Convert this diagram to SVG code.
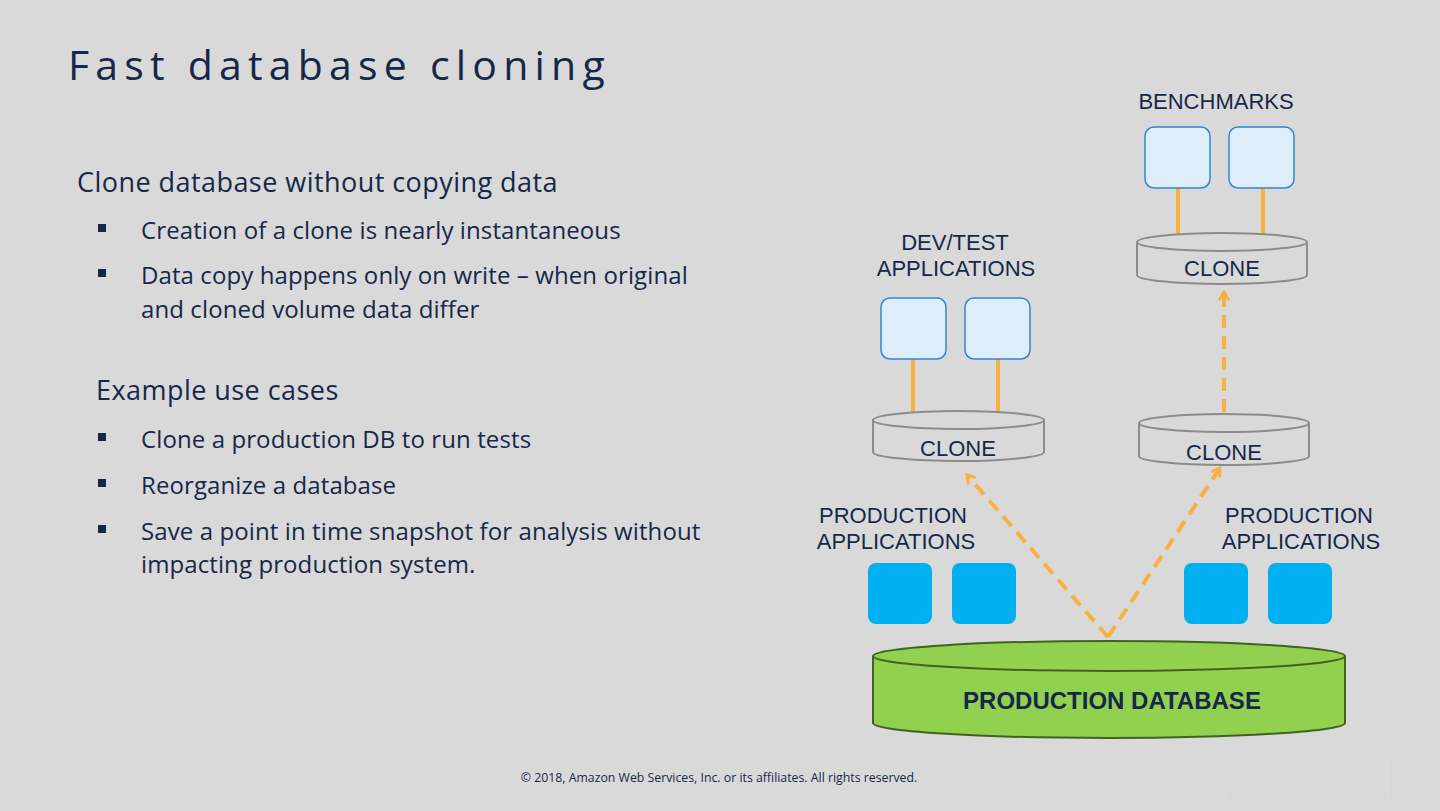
<svg xmlns="http://www.w3.org/2000/svg" width="1440" height="811" viewBox="0 0 1440 811">
<defs>
<style>
.t{font-family:"Open Sans",Lato,"Liberation Sans",sans-serif;fill:#16284a}
.h{font-size:27px;letter-spacing:0.45px}
.b{font-size:24px;letter-spacing:0.1px}
.lbl{font-family:"Liberation Sans",Arial,sans-serif;font-size:22px;fill:#16284a;text-anchor:middle}
.app{fill:#00b0f0}
.tapp{fill:#ddeefa;stroke:#2e86d6;stroke-width:1.5}
.clone{fill:#d9d9d9;stroke:#8c8c8c;stroke-width:2}
.link{stroke:#f8b03f;stroke-width:4;fill:none}
.dash{stroke:#f9b042;stroke-width:4;fill:none;stroke-dasharray:13 8}
.sq{fill:#16284a}
</style>
<marker id="chev" viewBox="0 0 12 12" refX="9" refY="6" markerWidth="12" markerHeight="12" markerUnits="userSpaceOnUse" orient="auto">
<path d="M1,1 L9,6 L1,11" fill="none" stroke="#f9b042" stroke-width="3"/>
</marker>
</defs>
<rect width="1440" height="811" fill="#d9d9d9"/>
<text class="t" x="68" y="80" font-size="41" letter-spacing="6.2">Fast database cloning</text>
<g id="bullets">
<text class="t h" x="77" y="192">Clone database without copying data</text>
<rect class="sq" x="98" y="224" width="8" height="8"/>
<text class="t b" x="141" y="239">Creation of a clone is nearly instantaneous</text>
<rect class="sq" x="98" y="269" width="8" height="8"/>
<text class="t b" x="141" y="284">Data copy happens only on write – when original</text>
<text class="t b" x="141" y="318">and cloned volume data differ</text>
<text class="t h" x="96" y="400">Example use cases</text>
<rect class="sq" x="98" y="433" width="8" height="8"/>
<text class="t b" x="141" y="448">Clone a production DB to run tests</text>
<rect class="sq" x="98" y="479" width="8" height="8"/>
<text class="t b" x="141" y="494">Reorganize a database</text>
<rect class="sq" x="98" y="525" width="8" height="8"/>
<text class="t b" x="141" y="540">Save a point in time snapshot for analysis without</text>
<text class="t b" x="141" y="573">impacting production system.</text>
</g>
<g id="connectors">
<line class="link" x1="913" y1="359" x2="913" y2="413"/>
<line class="link" x1="998" y1="359" x2="998" y2="413"/>
<line class="link" x1="1178" y1="188" x2="1178" y2="240"/>
<line class="link" x1="1263" y1="188" x2="1263" y2="240"/>
<path class="dash" d="M1108,637 L967,475" marker-end="url(#chev)"/>
<path class="dash" d="M1108,637 L1220,468" marker-end="url(#chev)"/>
<path class="dash" d="M1224,412 L1224,292" marker-end="url(#chev)"/>
</g>
<g id="prod-db">
<path d="M873,656 L873,723 A236,15 0 0 0 1345,723 L1345,656 A236,15 0 0 0 873,656 Z" fill="#92d050" stroke="#3f6420" stroke-width="2"/>
<path d="M873,656 A236,15 0 0 0 1345,656" fill="none" stroke="#3f6420" stroke-width="2"/>
<text x="1112" y="709" font-family="Liberation Sans,Arial,sans-serif" font-weight="bold" font-size="24" fill="#16284a" text-anchor="middle">PRODUCTION DATABASE</text>
</g>
<g id="prod-apps-left">
<rect class="app" x="868" y="563" width="64" height="61" rx="8"/>
<rect class="app" x="952" y="563" width="64" height="61" rx="8"/>
<text class="lbl" x="893" y="523">PRODUCTION</text>
<text class="lbl" x="896" y="549">APPLICATIONS</text>
</g>
<g id="prod-apps-right">
<rect class="app" x="1184" y="563" width="64" height="61" rx="8"/>
<rect class="app" x="1268" y="563" width="64" height="61" rx="8"/>
<text class="lbl" x="1299" y="523">PRODUCTION</text>
<text class="lbl" x="1301" y="549">APPLICATIONS</text>
</g>
<g id="clone-devtest">
<path class="clone" d="M873,420 L873,452 A85.5,9 0 0 0 1044,452 L1044,420 A85.5,9 0 0 0 873,420 Z"/>
<path d="M873,420 A85.5,9 0 0 0 1044,420" fill="none" stroke="#8c8c8c" stroke-width="2"/>
<text class="lbl" x="958" y="456">CLONE</text>
</g>
<g id="clone-right">
<path class="clone" d="M1139,423 L1139,456 A85,9 0 0 0 1309,456 L1309,423 A85,9 0 0 0 1139,423 Z"/>
<path d="M1139,423 A85,9 0 0 0 1309,423" fill="none" stroke="#8c8c8c" stroke-width="2"/>
<text class="lbl" x="1224" y="460">CLONE</text>
</g>
<g id="clone-bench">
<path class="clone" d="M1137,242 L1137,275 A85,9 0 0 0 1307,275 L1307,242 A85,9 0 0 0 1137,242 Z"/>
<path d="M1137,242 A85,9 0 0 0 1307,242" fill="none" stroke="#8c8c8c" stroke-width="2"/>
<text class="lbl" x="1222" y="276">CLONE</text>
</g>
<g id="devtest-apps">
<rect class="tapp" x="881" y="298" width="65" height="61" rx="9"/>
<rect class="tapp" x="965" y="298" width="65" height="61" rx="9"/>
<text class="lbl" x="955" y="250">DEV/TEST</text>
<text class="lbl" x="956" y="276">APPLICATIONS</text>
</g>
<g id="benchmarks">
<rect class="tapp" x="1145" y="127" width="65" height="61" rx="9"/>
<rect class="tapp" x="1229" y="127" width="65" height="61" rx="9"/>
<text class="lbl" x="1216" y="109">BENCHMARKS</text>
</g>
<text x="719" y="782" font-family="'Open Sans',Lato,'Liberation Sans',sans-serif" font-size="12.3" fill="#16284a" text-anchor="middle">© 2018, Amazon Web Services, Inc. or its affiliates. All rights reserved.</text>
<rect x="1231" y="758" width="161" height="42" fill="#dadada" stroke="#d5d5d5" stroke-width="1"/>
</svg>
